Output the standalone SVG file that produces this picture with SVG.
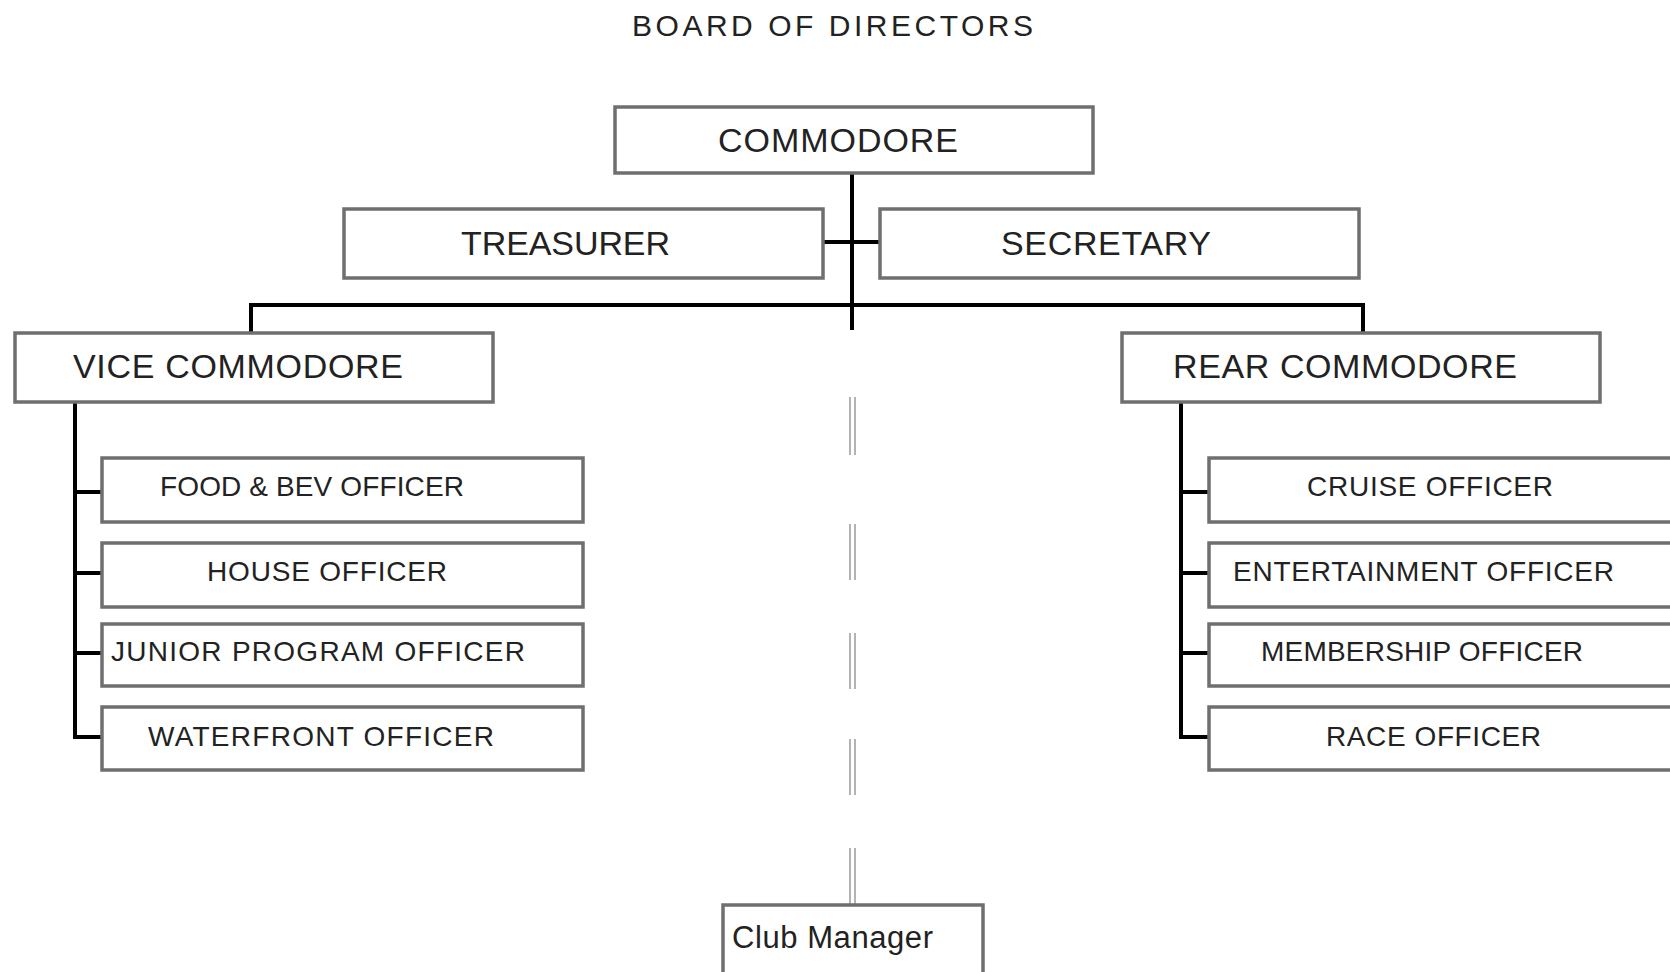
<svg xmlns="http://www.w3.org/2000/svg" width="1670" height="972" viewBox="0 0 1670 972">
<style>
  .box { fill: #ffffff; stroke: #6f6f6f; stroke-width: 3.5; }
  .t { font-family: "Liberation Sans", Arial, sans-serif; fill: #222222; }
  .big { font-size: 34px; }
  .sm { font-size: 28px; }
  .conn { stroke: #000000; stroke-width: 4; fill: none; }
  .dbl { stroke: #9a9a9a; stroke-width: 1.5; fill: none; }
</style>
<rect width="1670" height="972" fill="#ffffff"/>

<text class="t" x="632" y="36" font-size="30" textLength="401" lengthAdjust="spacing">BOARD OF DIRECTORS</text>

<g id="connectors">
  <path class="conn" d="M852 173 V330"/>
  <path class="conn" d="M823 242 H880"/>
  <path class="conn" d="M251 333 V305 H1363 V333"/>
  <path class="conn" d="M75 402 V737 H102"/>
  <path class="conn" d="M75 492 H102 M75 573 H102 M75 653 H102"/>
  <path class="conn" d="M1181 402 V737 H1209"/>
  <path class="conn" d="M1181 492 H1209 M1181 573 H1209 M1181 653 H1209"/>
  <g id="dotted-link">
    <path class="dbl" d="M850 397 V455 M855 397 V455 M850 524 V580 M855 524 V580 M850 633 V689 M855 633 V689 M850 739 V795 M855 739 V795 M850 848 V905 M855 848 V905"/>
  </g>
</g>

<g id="commodore">
  <rect class="box" x="615" y="107" width="478" height="66"/>
  <text class="t big" x="718" y="152" textLength="240" lengthAdjust="spacing">COMMODORE</text>
</g>
<g id="treasurer">
  <rect class="box" x="344" y="209" width="479" height="69"/>
  <text class="t big" x="461" y="255" textLength="209" lengthAdjust="spacing">TREASURER</text>
</g>
<g id="secretary">
  <rect class="box" x="880" y="209" width="479" height="69"/>
  <text class="t big" x="1001" y="255" textLength="210" lengthAdjust="spacing">SECRETARY</text>
</g>
<g id="vice-commodore">
  <rect class="box" x="15" y="333" width="478" height="69"/>
  <text class="t big" x="73" y="378" textLength="330" lengthAdjust="spacing">VICE COMMODORE</text>
</g>
<g id="rear-commodore">
  <rect class="box" x="1122" y="333" width="478" height="69"/>
  <text class="t big" x="1173" y="378" textLength="344" lengthAdjust="spacing">REAR COMMODORE</text>
</g>

<g id="food-bev-officer">
  <rect class="box" x="102" y="458" width="481" height="64"/>
  <text class="t sm" x="160" y="496" textLength="304" lengthAdjust="spacing">FOOD &amp; BEV OFFICER</text>
</g>
<g id="house-officer">
  <rect class="box" x="102" y="543" width="481" height="64"/>
  <text class="t sm" x="207" y="581" textLength="240" lengthAdjust="spacing">HOUSE OFFICER</text>
</g>
<g id="junior-program-officer">
  <rect class="box" x="102" y="624" width="481" height="62"/>
  <text class="t sm" x="111" y="661" textLength="414" lengthAdjust="spacing">JUNIOR PROGRAM OFFICER</text>
</g>
<g id="waterfront-officer">
  <rect class="box" x="102" y="707" width="481" height="63"/>
  <text class="t sm" x="148" y="746" textLength="346" lengthAdjust="spacing">WATERFRONT OFFICER</text>
</g>

<g id="cruise-officer">
  <rect class="box" x="1209" y="458" width="481" height="64"/>
  <text class="t sm" x="1307" y="496" textLength="246" lengthAdjust="spacing">CRUISE OFFICER</text>
</g>
<g id="entertainment-officer">
  <rect class="box" x="1209" y="543" width="481" height="64"/>
  <text class="t sm" x="1233" y="581" textLength="381" lengthAdjust="spacing">ENTERTAINMENT OFFICER</text>
</g>
<g id="membership-officer">
  <rect class="box" x="1209" y="624" width="481" height="62"/>
  <text class="t sm" x="1261" y="661" textLength="322" lengthAdjust="spacing">MEMBERSHIP OFFICER</text>
</g>
<g id="race-officer">
  <rect class="box" x="1209" y="707" width="481" height="63"/>
  <text class="t sm" x="1326" y="746" textLength="215" lengthAdjust="spacing">RACE OFFICER</text>
</g>

<g id="club-manager">
  <rect class="box" x="723" y="905" width="260" height="80"/>
  <text class="t" x="732" y="948" font-size="31" textLength="201" lengthAdjust="spacing">Club Manager</text>
</g>
</svg>
